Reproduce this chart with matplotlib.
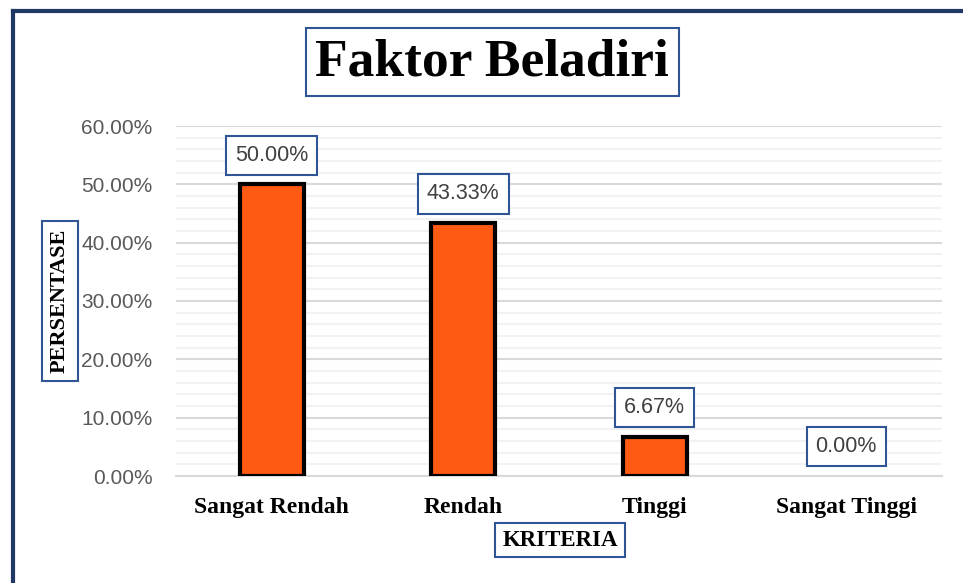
import numpy as np
import matplotlib.pyplot as plt
from matplotlib.lines import Line2D
from matplotlib.ticker import MultipleLocator, PercentFormatter

# data
categories = ["Sangat Rendah", "Rendah", "Tinggi", "Sangat Tinggi"]
values = [50.00, 43.33, 6.67, 0.00]
y_ticks = [0, 10, 20, 30, 40, 50, 60]

W, H = 963, 583
bar_color = "#FF5A14"
box_blue = "#2F5597"
frame_blue = "#1F3864"

fig = plt.figure(figsize=(W / 100, H / 100), dpi=100)
fig.patch.set_facecolor("white")

# outer frame, only top and left edges are visible
fig.add_artist(Line2D([13 / W, 13 / W], [0, 1 - 11 / H], transform=fig.transFigure,
                      color=frame_blue, lw=3))
fig.add_artist(Line2D([13 / W, 1], [1 - 11 / H, 1 - 11 / H], transform=fig.transFigure,
                      color=frame_blue, lw=3))

# plot area
ax = fig.add_axes([176 / W, 107 / H, 766 / W, 350 / H])
x = np.arange(len(categories))
bars = ax.bar(x, values, width=0.335, color=bar_color, edgecolor="black", linewidth=3,
              zorder=3)
for b, v in zip(bars, values):
    if v == 0:
        b.set_visible(False)

ax.set_xlim(-0.5, len(categories) - 0.5)
ax.set_ylim(0, 60)
ax.set_yticks(y_ticks)
ax.yaxis.set_minor_locator(MultipleLocator(2))
ax.yaxis.set_major_formatter(PercentFormatter(decimals=2))
ax.grid(axis="y", which="major", color="#D9D9D9", lw=1.5, zorder=0)
ax.grid(axis="y", which="minor", color="#F2F2F2", lw=1.5, zorder=0)
for s in ["top", "right", "left"]:
    ax.spines[s].set_visible(False)
ax.spines["bottom"].set_color("#D9D9D9")
ax.spines["bottom"].set_linewidth(1.5)
ax.tick_params(axis="both", which="both", length=0)
ax.tick_params(axis="y", labelsize=15, labelcolor="#595959", pad=17)
ax.set_xticks(x)
ax.set_xticklabels(categories, fontfamily="Liberation Serif", fontweight="bold",
                   fontsize=17, color="black")
ax.tick_params(axis="x", pad=15)
for lab in ax.get_yticklabels():
    lab.set_fontfamily("Liberation Sans")

# boxed data labels
for xi, v in zip(x, values):
    ax.annotate(f"{v:.2f}%", (xi, v), xytext=(0, 13.5), textcoords="offset points",
                ha="center", va="bottom", fontsize=15.5, color="#404040",
                fontfamily="Liberation Sans",
                bbox=dict(boxstyle="square,pad=0.42", fc="white", ec=box_blue, lw=1.5),
                zorder=5)

# title and axis titles
fig.text(492 / W, 1 - 62 / H, "Faktor Beladiri", ha="center", va="center",
         fontsize=38.5, fontweight="bold", fontfamily="Liberation Serif",
         bbox=dict(boxstyle="square,pad=0.18", fc="white", ec=box_blue, lw=1.5))
fig.text(60 / W, 1 - 301 / H, "PERSENTASE", ha="center", va="center", rotation=90,
         fontsize=16, fontweight="bold", fontfamily="Liberation Serif",
         bbox=dict(boxstyle="square,pad=0.35", fc="white", ec=box_blue, lw=1.5))
fig.text(560 / W, 1 - 540 / H, "KRITERIA", ha="center", va="center",
         fontsize=16.5, fontweight="bold", fontfamily="Liberation Serif",
         bbox=dict(boxstyle="square,pad=0.3", fc="white", ec=box_blue, lw=1.5))

fig.savefig("out.png", dpi=100)
